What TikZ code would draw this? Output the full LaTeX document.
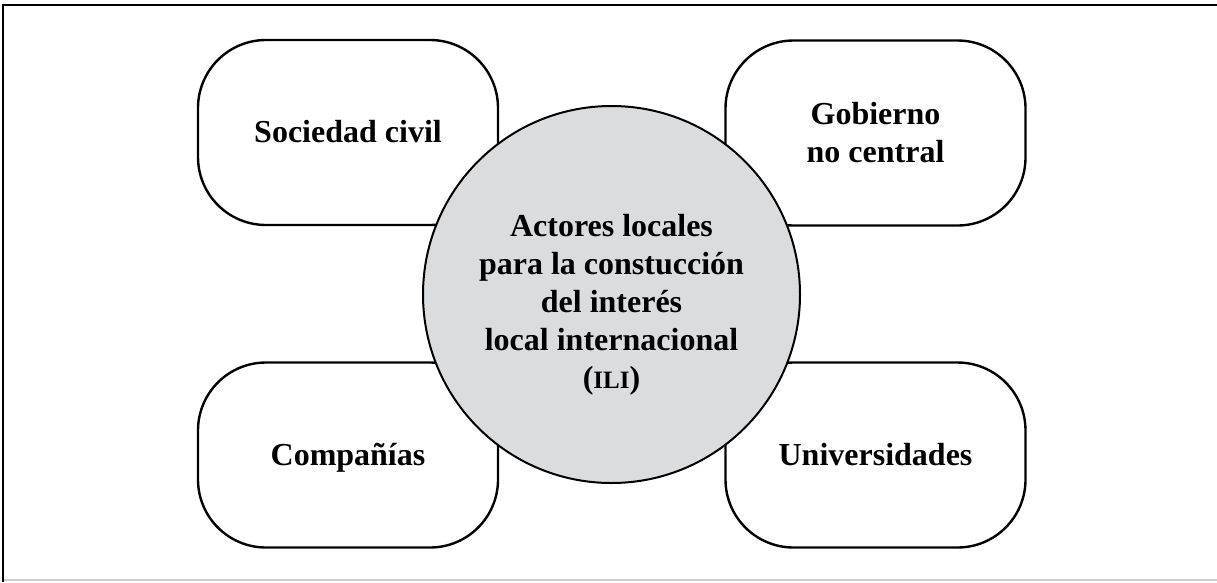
\documentclass[tikz,border=0pt]{standalone}
\usepackage{fontspec}
\setmainfont{Liberation Serif}
\definecolor{circfill}{RGB}{219,220,222}
\definecolor{framegray}{RGB}{205,205,205}
\newcommand{\eqstrut}{\vphantom{Ñy}}
\begin{document}
\begin{tikzpicture}[x=1pt,y=-1pt,
  actor/.style={draw=black, line width=2.4pt, rounded corners=68pt, fill=white,
    minimum width=300pt, minimum height=185pt, align=center, inner sep=0pt,
    font=\fontsize{32}{38}\selectfont\bfseries},
  hub/.style={draw=black, line width=2pt, circle, fill=circfill, minimum size=377pt,
    inner sep=0pt},
  hubtext/.style={align=center, inner sep=0pt, font=\fontsize{32}{38}\selectfont\bfseries}]
\useasboundingbox (0,0) rectangle (1217,582);
\fill[white] (0,0) rectangle (1217,582);
\draw[framegray, line width=1.5pt] (3,580) -- (1217,580);
\draw[black, line width=2.2pt] (3,582) -- (3,5) -- (1217,5);
\node[actor] (soc) at (348,132.5) {\eqstrut Sociedad civil};
\node[actor] (gob) at (875.5,133) {Gobierno\\no central};
\node[actor] (com) at (348,455) {\eqstrut Compañías};
\node[actor] (uni) at (875.5,455) {\eqstrut Universidades};
\node[hub] (ili) at (611.5,294.5) {};
\node[hubtext] (ilitxt) at ([yshift=-10pt]ili.center) {Actores locales\\para la constucción\\del interés\\local internacional\\({\fontsize{25}{38}\selectfont ILI})};
\end{tikzpicture}
\end{document}
